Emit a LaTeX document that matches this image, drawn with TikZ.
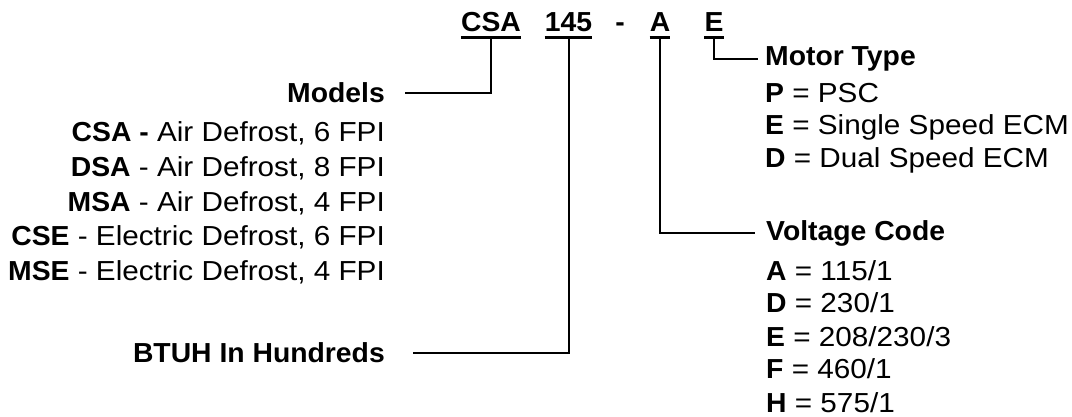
\documentclass[tikz,border=0pt]{standalone}
\usepackage{fontspec}
\setmainfont{Liberation Sans}[UprightFeatures={FakeStretch=1.08},BoldFeatures={FakeStretch=1.03}]
\begin{document}
\begin{tikzpicture}[x=1pt,y=-1pt,
  txt/.style={inner sep=0pt,font=\fontsize{27.5}{32}\selectfont},
  btxt/.style={inner sep=0pt,font=\fontsize{27.5}{32}\selectfont\bfseries},
  code/.style={btxt,anchor=base},
  lbl/.style={txt,anchor=east},
  blbl/.style={btxt,anchor=east},
  rlbl/.style={txt,anchor=west},
  brlbl/.style={btxt,anchor=west},
  ul/.style={line width=3pt},
  conn/.style={line width=2pt}]
\useasboundingbox (0,0) rectangle (1072,417);
% code row
\node[code] (csa) at (491,32) {CSA};
\node[code] (n145) at (568.5,32) {145};
\node[code] (dash) at (620,32) {-};
\node[code] (ca) at (660,32) {A};
\node[code] (ce) at (714,32) {E};
\foreach \n in {csa,n145,ca,ce}
  \draw[ul] ([yshift=-5.5pt]\n.base west) -- ([yshift=-5.5pt]\n.base east);
% left labels
\node[blbl] (models) at (385,93) {Models};
\node[lbl] (m1) at (385,133) {\textbf{CSA -} Air Defrost, 6 FPI};
\node[lbl] (m2) at (385,168) {\textbf{DSA} - Air Defrost, 8 FPI};
\node[lbl] (m3) at (385,203) {\textbf{MSA} - Air Defrost, 4 FPI};
\node[lbl] (m4) at (385,237) {\textbf{CSE} - Electric Defrost, 6 FPI};
\node[lbl] (m5) at (385,272) {\textbf{MSE} - Electric Defrost, 4 FPI};
\node[blbl] (btuh) at (385,353) {BTUH In Hundreds};
% right labels
\node[brlbl] (mtype) at (765,59) {Motor Type};
\node[rlbl] (t1) at (765,93) {\textbf{P} = PSC};
\node[rlbl] (t2) at (765,127) {\textbf{E} = Single Speed ECM};
\node[rlbl] (t3) at (765,160) {\textbf{D} = Dual Speed ECM};
\node[brlbl] (vcode) at (766,233) {Voltage Code};
\node[rlbl] (v1) at (766,271) {\textbf{A} = 115/1};
\node[rlbl] (v2) at (766,303) {\textbf{D} = 230/1};
\node[rlbl] (v3) at (766,337) {\textbf{E} = 208/230/3};
\node[rlbl] (v4) at (766,369) {\textbf{F} = 460/1};
\node[rlbl] (v5) at (766,403) {\textbf{H} = 575/1};
% connectors
\coordinate (modelsEnd) at ([xshift=20pt]models.east);
\coordinate (btuhEnd) at ([xshift=28pt]btuh.east);
\coordinate (mtypeEnd) at ([xshift=-7pt]mtype.west);
\coordinate (vcodeEnd) at ([xshift=-11pt]vcode.west);
\draw[conn] ([yshift=-7pt]csa.base) |- (modelsEnd);
\draw[conn] ([yshift=-7pt]n145.base) |- (btuhEnd);
\draw[conn] ([yshift=-7pt]ca.base) |- (vcodeEnd);
\draw[conn] ([yshift=-7pt]ce.base) |- (mtypeEnd);
\end{tikzpicture}
\end{document}
